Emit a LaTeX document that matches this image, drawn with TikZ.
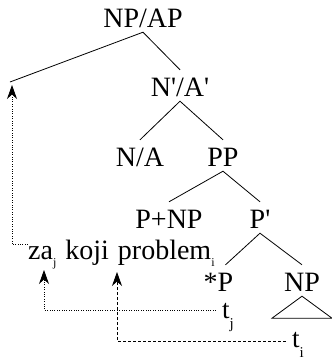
\documentclass[tikz,border=0pt]{standalone}
\usepackage{fontspec}
\setmainfont{Liberation Serif}[Ligatures=TeXOff]
\usetikzlibrary{arrows.meta}
\newcommand\subA[1]{\raisebox{-7pt}{\fontsize{12}{12}\selectfont #1}}
\newcommand\subB[1]{\raisebox{-10pt}{\fontsize{15}{15}\selectfont #1}}
\tikzset{
  cat/.style={inner xsep=1pt, inner ysep=5pt, text height=21pt, text depth=0pt,
    font=\fontsize{28}{30}\selectfont, anchor=base},
  trace/.style={inner xsep=6pt, inner ysep=0pt, text height=16pt, text depth=0pt,
    font=\fontsize{27}{30}\selectfont, anchor=base west},
  branch/.style={line width=0.8pt},
  movetip/.style={-{Stealth[length=14pt,width=10pt,inset=4.5pt]}},
  dotmove/.style={line width=0.8pt, dash pattern=on 0.8pt off 1.6pt, movetip},
  dashmove/.style={line width=0.8pt, dash pattern=on 3pt off 2pt, movetip}
}
\begin{document}
\begin{tikzpicture}[x=1pt,y=-1pt]
\useasboundingbox (0,0) rectangle (332,360);
\node[cat] (np) at (143,27) {NP/AP};
\node[cat] (nbar) at (180,96) {N'/A'};
\node[cat] (na) at (140,166) {N/A};
\node[cat] (pp) at (223,166) {PP};
\node[cat] (pnp) at (169,228) {P+NP};
\node[cat] (pbar) at (260,228) {P'};
\node[cat] (sp) at (225.5,291) {\llap{*}P};
\node[cat] (np2) at (302,291) {NP};
\node[cat, anchor=base west, inner sep=0pt] (sent) at (28,259)
  {za\subA{j}\hspace{2pt} koji\hspace{2pt} problem\subA{i}};
\node[trace] (tj) at (216,318) {t\subB{j}};
\node[trace] (ti) at (286,347) {t\subB{i}};
\coordinate (npl) at (10,82);
\coordinate (tipnp) at (12,85);
\coordinate (tipza) at (44,270);
\coordinate (tipprob) at (117,272);
\draw[branch] (npl) -- (np.south) -- (nbar.north);
\draw[branch] (na.north) -- (nbar.south) -- (pp.north);
\draw[branch] (pnp.north) -- (pp.south) -- (pbar.north);
\draw[branch] (sp.north) -- (pbar.south) -- (np2.north);
\draw[branch] (np2.south) -- ++(-30,22) -- ++(60,0) -- cycle;
\draw[dotmove] ([yshift=4pt]sent.west) -| (tipnp);
\draw[dotmove] (tj.west) -| (tipza);
\draw[dashmove] ([yshift=-2pt]ti.west) -| (tipprob);
\end{tikzpicture}
\end{document}
